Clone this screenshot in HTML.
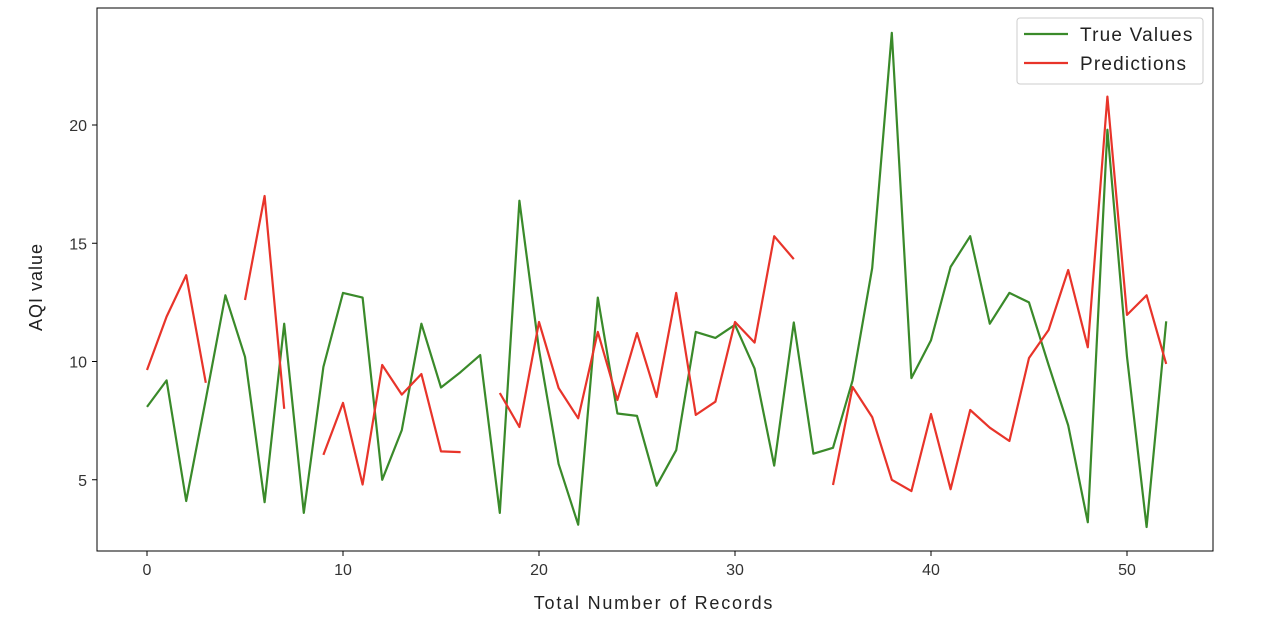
<!DOCTYPE html>
<html><head><meta charset="utf-8"><style>
html,body{margin:0;padding:0;background:#fff;}
svg{display:block;font-family:"Liberation Sans","DejaVu Sans",sans-serif;}
</style></head><body>
<svg id="chart" width="1288" height="624" viewBox="0 0 1288 624">
<rect x="0" y="0" width="1288" height="624" fill="#fff"/>
<g id="series"></g>
<rect x="97" y="8" width="1116" height="543" fill="none" stroke="#000" stroke-width="1"/>
<g id="xticks" font-size="16" fill="#333"></g>
<g id="yticks" font-size="16" fill="#333"></g>
<text x="654" y="609" font-size="18" letter-spacing="1.8" text-anchor="middle" fill="#222">Total Number of Records</text>
<text x="42" y="287" font-size="18" letter-spacing="1" text-anchor="middle" fill="#222" transform="rotate(-90 42 287)">AQI value</text>
<g>
<rect x="1017" y="18" width="186" height="66" rx="3" fill="#fff" stroke="#ccc"/>
<g>
<line x1="1024" y1="34" x2="1068" y2="34" stroke="#3a8a2a" stroke-width="2.2"/>
<text x="1080" y="41" font-size="19" letter-spacing="1.2" fill="#222">True Values</text></g>
<g>
<line x1="1024" y1="63" x2="1068" y2="63" stroke="#e8342a" stroke-width="2.2"/>
<text x="1080" y="70" font-size="19" letter-spacing="1.2" fill="#222">Predictions</text></g>
</g>
</svg>
<script>
const trueValues=[8.08,9.2,4.1,8.4,12.8,10.2,4.05,11.6,3.6,9.77,12.9,12.7,5.0,7.1,11.6,8.9,9.55,10.27,3.6,16.8,10.5,5.67,3.1,12.7,7.8,7.7,4.75,6.25,11.25,11.0,11.55,9.7,5.6,11.65,6.1,6.35,9.2,13.95,23.9,9.3,10.9,14.0,15.3,11.6,12.9,12.5,9.85,7.3,3.2,19.8,10.2,3.0,11.7];
const predValues=[9.64,11.9,13.65,9.1,null,12.6,17.0,8.0,null,6.05,8.25,4.8,9.85,8.6,9.47,6.2,6.17,null,8.67,7.23,11.67,8.88,7.6,11.25,8.37,11.2,8.5,12.9,7.74,8.3,11.67,10.8,15.3,14.33,null,4.78,8.92,7.65,5.0,4.52,7.78,4.6,7.95,7.2,6.64,10.15,11.33,13.87,10.6,21.2,11.97,12.8,9.9];
const xTickLabels=[0,10,20,30,40,50];
const yTickLabels=[5,10,15,20];
const NS="http://www.w3.org/2000/svg";
function xs(v){return 147+v*19.6;}
function ys(v){return 598-v*23.65;}
const xt=document.getElementById('xticks'),yt=document.getElementById('yticks'),sg=document.getElementById('series');
xTickLabels.forEach(v=>{
 const l=document.createElementNS(NS,'line');
 l.setAttribute('x1',xs(v));l.setAttribute('x2',xs(v));l.setAttribute('y1',551);l.setAttribute('y2',556);l.setAttribute('stroke','#000');
 
 
 xt.appendChild(l);
 const t=document.createElementNS(NS,'text');
 t.setAttribute('x',xs(v));t.setAttribute('y',575);t.setAttribute('text-anchor','middle');t.textContent=v;
 
 
 xt.appendChild(t);
});
yTickLabels.forEach(v=>{
 const l=document.createElementNS(NS,'line');
 l.setAttribute('x1',92);l.setAttribute('x2',97);l.setAttribute('y1',ys(v));l.setAttribute('y2',ys(v));l.setAttribute('stroke','#000');
 
 
 yt.appendChild(l);
 const t=document.createElementNS(NS,'text');
 t.setAttribute('x',87);t.setAttribute('y',ys(v)+6);t.setAttribute('text-anchor','end');t.textContent=v;
 
 
 yt.appendChild(t);
});
function drawSeries(vals,color,name){
 let d='',pen=false;
 vals.forEach((v,i)=>{
  if(v===null){pen=false;return;}
  d+=(pen?'L':'M')+xs(i).toFixed(1)+' '+ys(v).toFixed(1)+' ';pen=true;
 });
 const p=document.createElementNS(NS,'path');
 p.setAttribute('d',d);p.setAttribute('fill','none');p.setAttribute('stroke',color);p.setAttribute('stroke-width','2.2');p.setAttribute('stroke-linejoin','round');
 
 
 sg.appendChild(p);
}
drawSeries(trueValues,'#3a8a2a','true-values-line');
drawSeries(predValues,'#e8342a','predictions-line');
</script>
</body></html>
